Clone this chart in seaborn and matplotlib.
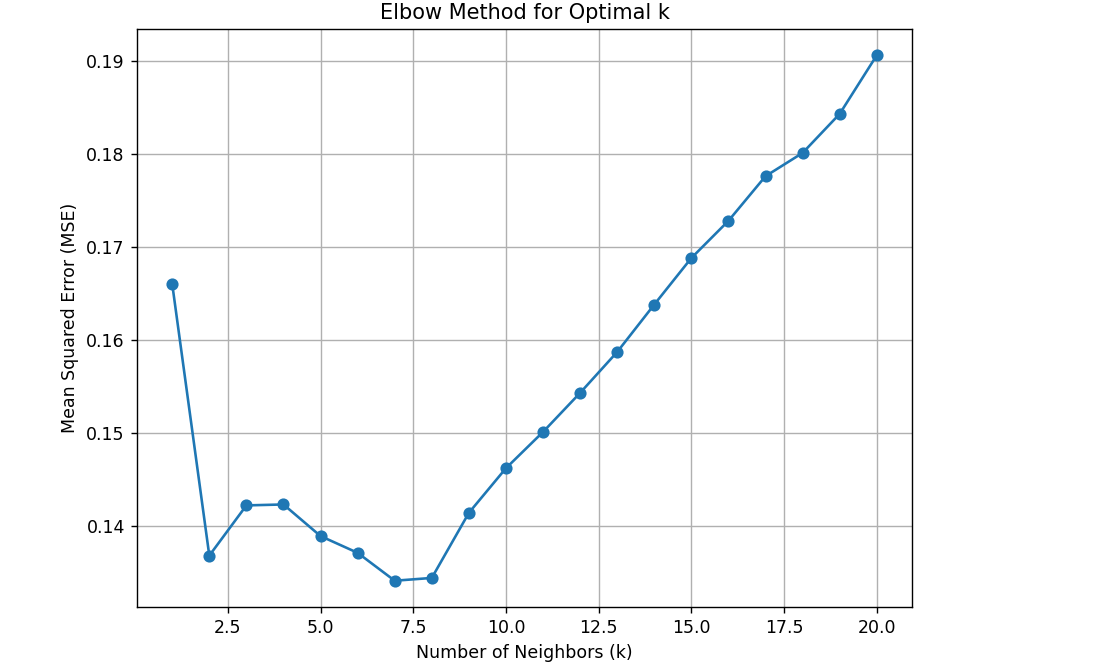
import matplotlib
matplotlib.use("Agg")
import matplotlib.pyplot as plt
import seaborn as sns
import pandas as pd

# Values
k_values = list(range(1, 21))
mse_values = [0.1660, 0.1368, 0.1422, 0.1423, 0.1389, 0.1371, 0.1341, 0.1344,
              0.1414, 0.1462, 0.1501, 0.1543, 0.1587, 0.1638, 0.1688, 0.1728,
              0.1776, 0.1801, 0.1843, 0.1906]

df = pd.DataFrame({"k": k_values, "mse": mse_values})

# reference looks like a default 8x6 figure shown at 1.25x, so render at 125 dpi
fig = plt.figure(figsize=(1097 / 125, 671 / 125), dpi=125)
ax = fig.add_subplot(111)
fig.subplots_adjust(left=137 / 1097, right=912 / 1097, top=1 - 29 / 671, bottom=1 - 607 / 671)

sns.lineplot(data=df, x="k", y="mse", marker="o", color="#1f77b4",
             markersize=6, markeredgecolor="#1f77b4", markeredgewidth=1, ax=ax)

ax.set_title("Elbow Method for Optimal k")
ax.set_xlabel("Number of Neighbors (k)")
ax.set_ylabel("Mean Squared Error (MSE)")
ax.grid(True)

fig.savefig("out.png", dpi=125)
